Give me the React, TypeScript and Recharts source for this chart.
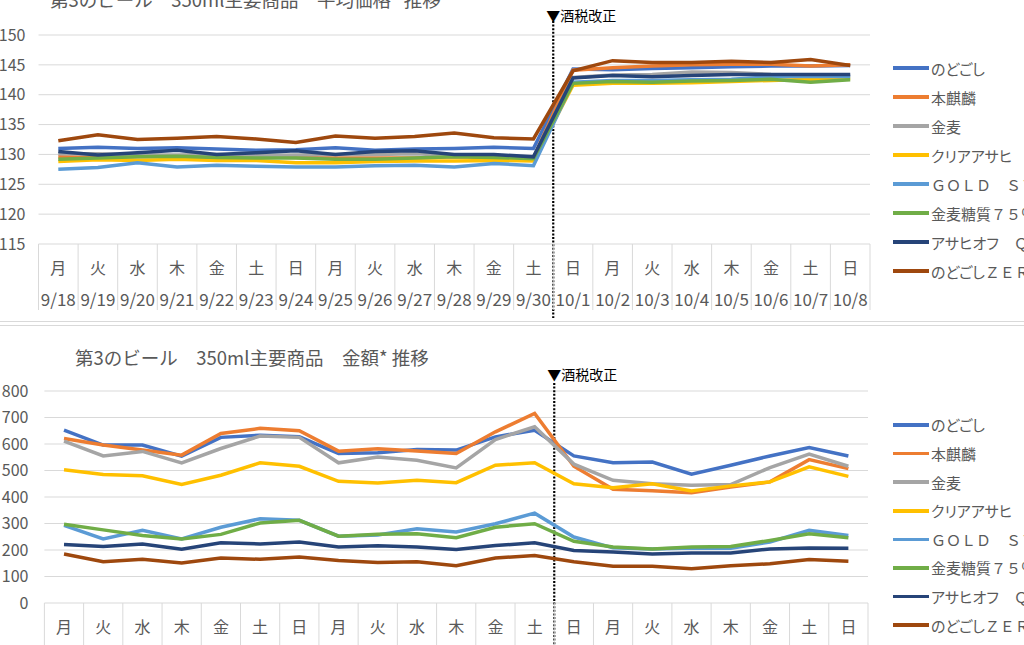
import { LineChart, Line, XAxis, YAxis, CartesianGrid, ReferenceLine } from 'recharts'

const dates = [
  '9/18', '9/19', '9/20', '9/21', '9/22', '9/23', '9/24', '9/25', '9/26', '9/27', '9/28',
  '9/29', '9/30', '10/1', '10/2', '10/3', '10/4', '10/5', '10/6', '10/7', '10/8',
]
const weekdays = [
  '月', '火', '水', '木', '金', '土', '日', '月', '火', '水', '木',
  '金', '土', '日', '月', '火', '水', '木', '金', '土', '日',
]

const seriesKeys = ['nodogoshi', 'honkirin', 'kinmugi', 'clearAsahi', 'goldStar', 'kinmugiOff', 'asahiOff', 'nodogoshiZero']
const seriesNames = [
  'のどごし', '本麒麟', '金麦', 'クリアアサヒ', 'ＧＯＬＤ　ＳＴＡＲ',
  '金麦糖質７５％オフ', 'アサヒオフ　Ｑ缶', 'のどごしＺＥＲＯ',
]
const seriesColors = ['#4472C4', '#ED7D31', '#A5A5A5', '#FFC000', '#5B9BD5', '#70AD47', '#264478', '#9E480E']

// 平均価格 (円)
const nodogoshiPrice = [131.0, 131.2, 131.0, 131.1, 130.9, 130.7, 130.8, 131.1, 130.7, 130.9, 131.0, 131.2, 131.0, 144.3, 144.2, 144.4, 144.5, 144.7, 144.8, 144.8, 144.9]
const honkirinPrice = [129.6, 129.5, 129.6, 129.7, 129.5, 129.6, 129.5, 129.4, 129.4, 129.4, 129.6, 129.5, 129.4, 144.1, 144.5, 144.8, 145.0, 145.1, 145.1, 144.8, 145.0]
const kinmugiPrice = [130.1, 130.1, 129.9, 129.9, 130.0, 129.8, 129.9, 130.0, 130.0, 130.1, 129.8, 129.8, 129.5, 142.9, 143.3, 143.4, 143.8, 143.7, 143.4, 143.3, 143.2]
const clearAsahiPrice = [128.8, 129.1, 129.0, 129.2, 129.0, 129.0, 128.6, 128.6, 128.8, 128.9, 128.9, 129.0, 128.9, 141.6, 141.9, 141.9, 142.0, 142.2, 142.4, 142.6, 142.7]
const goldStarPrice = [127.5, 127.8, 128.6, 127.9, 128.2, 128.0, 127.9, 127.9, 128.1, 128.2, 127.9, 128.5, 128.1, 142.1, 142.4, 142.4, 142.5, 142.6, 143.0, 143.1, 143.0]
const kinmugiOffPrice = [129.2, 129.4, 129.6, 129.7, 129.5, 129.4, 129.4, 129.2, 129.2, 129.4, 129.6, 129.5, 129.3, 141.9, 142.2, 142.1, 142.3, 142.4, 142.6, 142.1, 142.5]
const asahiOffPrice = [130.5, 129.9, 130.3, 130.7, 130.0, 130.3, 130.6, 130.0, 130.5, 130.6, 130.0, 130.0, 129.6, 142.8, 143.2, 143.0, 143.2, 143.4, 143.4, 143.4, 143.4]
const nodogoshiZeroPrice = [132.3, 133.3, 132.5, 132.7, 133.0, 132.6, 132.0, 133.1, 132.7, 133.0, 133.6, 132.8, 132.6, 144.0, 145.7, 145.4, 145.4, 145.6, 145.4, 145.9, 144.9]

// 金額
const nodogoshiAmount = [652, 596, 596, 554, 625, 633, 627, 564, 567, 579, 577, 627, 652, 555, 529, 532, 486, 520, 555, 587, 555]
const honkirinAmount = [621, 596, 577, 558, 640, 659, 650, 573, 582, 574, 564, 646, 715, 516, 429, 424, 416, 438, 457, 541, 507]
const kinmugiAmount = [611, 555, 572, 529, 583, 630, 625, 529, 551, 539, 510, 617, 665, 524, 463, 450, 444, 447, 511, 562, 516]
const clearAsahiAmount = [503, 485, 480, 447, 482, 529, 516, 459, 453, 463, 454, 520, 529, 450, 435, 450, 423, 442, 457, 514, 478]
const goldStarAmount = [293, 242, 274, 242, 286, 318, 312, 252, 257, 280, 268, 299, 339, 249, 208, 204, 208, 207, 230, 274, 255]
const kinmugiOffAmount = [297, 276, 255, 242, 259, 302, 312, 252, 259, 261, 246, 286, 299, 233, 211, 204, 211, 213, 236, 261, 246]
const asahiOffAmount = [221, 213, 223, 203, 227, 223, 230, 211, 216, 211, 202, 217, 227, 198, 192, 185, 189, 189, 204, 208, 207]
const nodogoshiZeroAmount = [185, 156, 165, 151, 170, 165, 174, 160, 153, 156, 141, 170, 179, 156, 139, 139, 129, 141, 148, 164, 158]

const priceTicks = [115, 120, 125, 130, 135, 140, 145, 150]
const amountTicks = [0, 100, 200, 300, 400, 500, 600, 700, 800]
const taxChangeDate = '9/30'
const taxChangeLabel = '▼酒税改正'

const priceSeries = [nodogoshiPrice, honkirinPrice, kinmugiPrice, clearAsahiPrice, goldStarPrice, kinmugiOffPrice, asahiOffPrice, nodogoshiZeroPrice]
const amountSeries = [nodogoshiAmount, honkirinAmount, kinmugiAmount, clearAsahiAmount, goldStarAmount, kinmugiOffAmount, asahiOffAmount, nodogoshiZeroAmount]

function buildRows(values: number[][]) {
  return dates.map((date, i) => {
    const row: Record<string, string | number> = { date, day: weekdays[i] }
    seriesKeys.forEach((key, s) => {
      row[key] = values[s][i]
    })
    return row
  })
}

const priceRows = buildRows(priceSeries)
const amountRows = buildRows(amountSeries)

const textColor = '#595959'
const gridColor = '#d9d9d9'

function CategoryTick(props: any) {
  const { x, y, payload, band, showDate, sepLength } = props
  const i = payload.index
  return (
    <g>
      <line x1={x - band / 2} x2={x - band / 2} y1={y} y2={y + sepLength} stroke={gridColor} />
      {i === dates.length - 1 && (
        <line x1={x + band / 2} x2={x + band / 2} y1={y} y2={y + sepLength} stroke={gridColor} />
      )}
      <text x={x} y={y + 30} textAnchor="middle" fontSize={16} fill={textColor}>
        {weekdays[i]}
      </text>
      {showDate && (
        <text x={x} y={y + 62} textAnchor="middle" fontSize={17} fill={textColor}>
          {payload.value}
        </text>
      )}
    </g>
  )
}

function taxLine(above: number, labelGap: number, below: number) {
  return (props: any) => {
    const top = Math.min(props.y1, props.y2)
    const bottom = Math.max(props.y1, props.y2)
    return (
      <g>
        <line x1={props.x1} x2={props.x1} y1={top - above} y2={bottom + below}
          stroke="#000" strokeWidth={2.2} strokeDasharray="2 1.6" />
        <text x={props.x1 - 7} y={top - labelGap} fontSize={14} fill="#000" dominantBaseline="central">
          {taxChangeLabel}
        </text>
      </g>
    )
  }
}

// kana set proportionally, full-width latin kept wide (like the Excel legend)
function LegendText({ text }: { text: string }) {
  const parts = text.split(/([\u3040-\u30ff]+)/).filter(Boolean)
  return (
    <>
      {parts.map((part, i) => (
        <span key={i} style={{ fontFeatureSettings: /[\u3040-\u30ff]/.test(part) ? '"palt"' : 'normal' }}>{part}</span>
      ))}
    </>
  )
}

function SeriesLegend({ top, rowHeight }: { top: number; rowHeight: number }) {
  return (
    <div style={{ position: 'absolute', left: 893, top, whiteSpace: 'nowrap' }}>
      {seriesNames.map((name, i) => (
        <div key={name} style={{ height: rowHeight, display: 'flex', alignItems: 'center' }}>
          <span style={{ display: 'inline-block', width: 36, height: 3.5, background: seriesColors[i] }} />
          <span style={{ marginLeft: 2, fontSize: 15, color: textColor }}><LegendText text={name} /></span>
        </div>
      ))}
    </div>
  )
}

function renderLines() {
  return seriesKeys.map((key, i) => (
    <Line key={key} type="linear" dataKey={key} name={seriesNames[i]} stroke={seriesColors[i]}
      strokeWidth={3.5} dot={false} activeDot={false} isAnimationActive={false} />
  ))
}

const priceLeft = 38.5
const priceRight = 870
const priceBand = (priceRight - priceLeft) / dates.length
const amountLeft = 44.4
const amountRight = 868
const amountBand = (amountRight - amountLeft) / dates.length

export default function App() {
  return (
    <div style={{ position: 'relative', width: 1024, height: 645, overflow: 'hidden', background: '#fff',
      fontFamily: '"Noto Sans CJK JP", "Noto Sans", sans-serif' }}>
      <style>{'body{margin:0}'}</style>

      <div style={{ position: 'absolute', left: 50, top: -13, fontSize: 18.5, lineHeight: '24px', color: textColor, whiteSpace: 'nowrap' }}>
        第3のビール　350ml主要商品　平均価格* 推移
      </div>
      <div style={{ position: 'absolute', left: 0, top: 0 }}>
        <LineChart width={1024} height={323} data={priceRows} margin={{ top: 35, right: 1024 - priceRight, bottom: 0, left: 0 }}>
          <CartesianGrid vertical={false} stroke={gridColor} />
          <XAxis dataKey="date" scale="band" height={79} interval={0} axisLine={false} tickLine={false}
            tickSize={0} tickMargin={0}
            tick={(p: any) => <CategoryTick {...p} band={priceBand} showDate sepLength={66} />} />
          <YAxis width={priceLeft} domain={[115, 150]} ticks={priceTicks} axisLine={false} tickLine={false}
            tickSize={0} tickMargin={13} tick={{ fontSize: 16, fill: textColor }} />
          <ReferenceLine x={taxChangeDate} position="end" ifOverflow="visible" shape={taxLine(14, 20, 74)} />
          {renderLines()}
        </LineChart>
      </div>
      <SeriesLegend top={53.5} rowHeight={29} />

      <div style={{ position: 'absolute', left: 0, right: 0, top: 321, height: 1, background: gridColor }} />
      <div style={{ position: 'absolute', left: 0, right: 0, top: 325, height: 1, background: gridColor }} />

      <div style={{ position: 'absolute', left: 75, top: 345, fontSize: 18.5, lineHeight: '24px', color: textColor, whiteSpace: 'nowrap' }}>
        第3のビール　350ml主要商品　金額* 推移
      </div>
      <div style={{ position: 'absolute', left: 0, top: 323 }}>
        <LineChart width={1024} height={322} data={amountRows} margin={{ top: 68, right: 1024 - amountRight, bottom: 0, left: 0 }}>
          <CartesianGrid vertical={false} stroke={gridColor} />
          <XAxis dataKey="date" scale="band" height={42} interval={0} axisLine={false} tickLine={false}
            tickSize={0} tickMargin={0}
            tick={(p: any) => <CategoryTick {...p} band={amountBand} showDate={false} sepLength={60} />} />
          <YAxis width={amountLeft} domain={[0, 800]} ticks={amountTicks} axisLine={false} tickLine={false}
            tickSize={0} tickMargin={16} tick={{ fontSize: 16, fill: textColor }} />
          <ReferenceLine x={taxChangeDate} position="end" ifOverflow="visible" shape={taxLine(8, 17, 60)} />
          {renderLines()}
        </LineChart>
      </div>
      <SeriesLegend top={410.7} rowHeight={28.6} />
    </div>
  )
}
